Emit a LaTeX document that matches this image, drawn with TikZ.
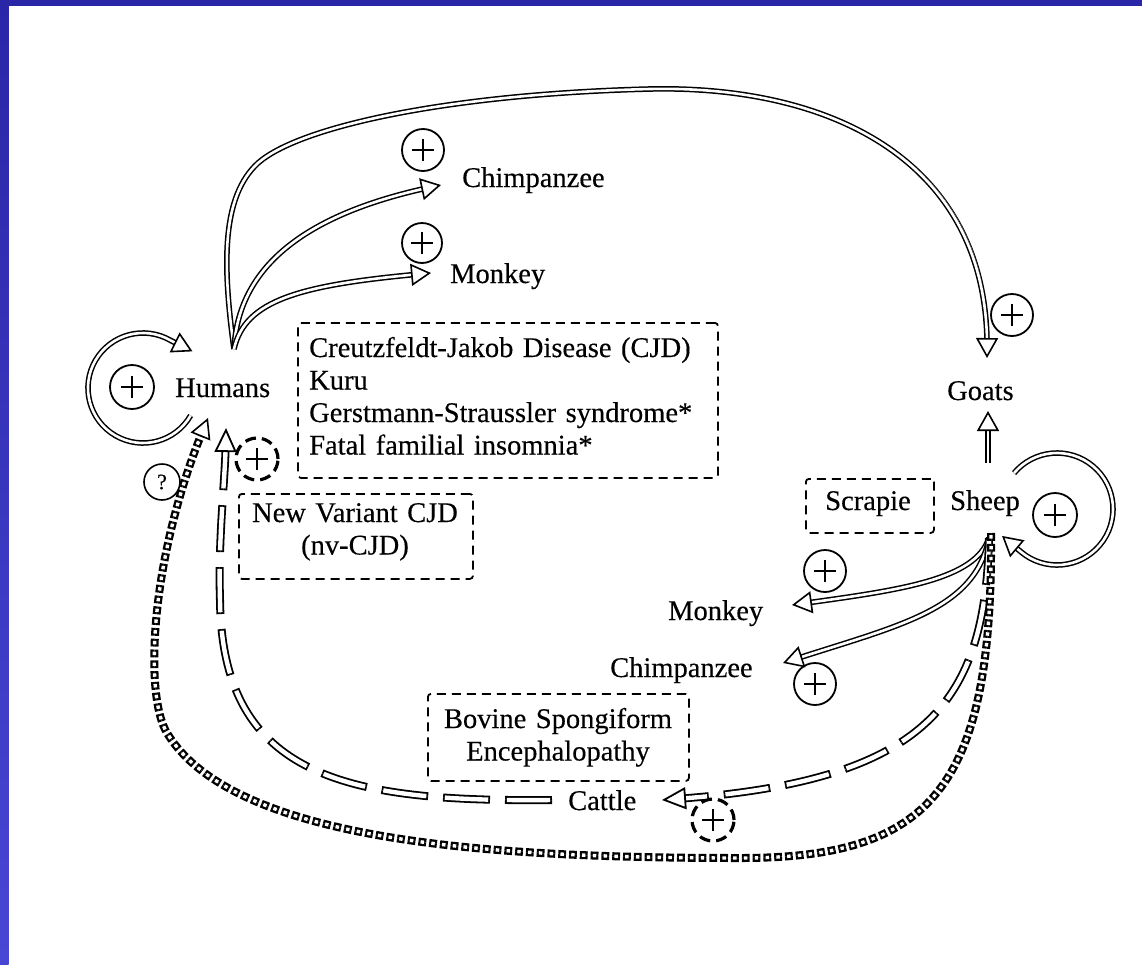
\documentclass[tikz,border=0pt]{standalone}
\usepackage{fontspec}
\setmainfont{Liberation Serif}[FakeBold=0.3]
\usetikzlibrary{arrows.meta}

\definecolor{frameblue}{RGB}{42,38,168}
\definecolor{frameblueB}{RGB}{72,70,212}

\tikzset{
  lbl/.style={inner sep=0pt, anchor=base west, font=\fontsize{28.5}{32.5}\selectfont},
  dbox/.style={draw, line width=1.8pt, dash pattern=on 9pt off 6pt, rounded corners=3pt, inner sep=0pt},
  pcirc/.style={circle, draw, line width=1.8pt, minimum size=42pt, inner sep=0pt,
    path picture={\draw[solid, line width=2.4pt]
      ([xshift=-11pt]path picture bounding box.center) -- ([xshift=11pt]path picture bounding box.center)
      ([yshift=-11pt]path picture bounding box.center) -- ([yshift=11pt]path picture bounding box.center);}},
  dcirc/.style={pcirc, line width=3.2pt, dash pattern=on 11pt off 6pt},
  qcirc/.style={circle, draw, line width=1.6pt, minimum size=36pt, inner sep=0pt, font=\fontsize{22}{22}\selectfont},
  shaft/.style={draw, double=white, line width=1.5pt, double distance=2.6pt, shorten >=10pt},
  head/.style={white, line width=0.01pt, -{Triangle[open, fill=white, color=black, line width=1.6pt, length=20pt, width=22pt]}},
  dshB/.style={line width=8pt, dash pattern=on 47pt off 15pt, shorten >=18pt},
  dshW/.style={white, line width=4.4pt, dash pattern=on 43.4pt off 18.6pt, shorten >=18pt},
  dhead/.style={white, line width=0.01pt, -{Triangle[open, fill=white, color=black, line width=1.8pt, length=24pt, width=22pt]}},
  sqB/.style={line width=8pt, dash pattern=on 7.8pt off 3pt, shorten >=14pt},
  sqW/.style={white, line width=3.4pt, dash pattern=on 3.4pt off 7.4pt, shorten >=14pt},
  sqhead/.style={white, line width=0.01pt, -{Triangle[open, fill=white, color=black, line width=1.6pt, length=20pt, width=21pt]}}
}

% solid hollow arrow: outlined shaft, then an open head on top
\newcommand\hollowarrow[1]{\draw[shaft] #1; \draw[head] #1;}
% long-dash hollow arrow, #1 = dash phase of the outer strokes
\newcommand\dasharrow[2]{%
  \pgfmathsetmacro\innerphase{#1+60.2}%
  \draw[dshB, dash phase=#1pt] #2;
  \draw[dshW, dash phase=\innerphase pt] #2;
  \draw[dhead] #2;}
% chain of little hollow squares ending in an open head
\newcommand\squarearrow[1]{%
  \draw[sqB] #1; \draw[sqW, dash phase=8.6pt] #1; \draw[sqhead] #1;}

\begin{document}
\begin{tikzpicture}[x=1pt, y=-1pt]
\useasboundingbox (0,0) rectangle (1142,964);
\fill[white] (0,0) rectangle (1142,964);
\shade[top color=frameblue, bottom color=frameblueB] (0,0) rectangle (8.7,964);
\fill[frameblue] (0,0) rectangle (1142,6);

% ---------- labels ----------
\node[lbl] (chimpT) at (462,187) {Chimpanzee};
\node[lbl] (monkT)  at (450,283) {Monkey};
\node[lbl] (humans) at (175,397) {Humans};
\node[lbl] (goats)  at (947,400) {Goats};
\node[lbl] (sheep)  at (950,510) {Sheep};
\node[lbl] (monkR)  at (668,620) {Monkey};
\node[lbl] (chimpR) at (610,677) {Chimpanzee};
\node[lbl] (cattle) at (568,810) {Cattle};

% ---------- disease boxes ----------
\node[dbox, anchor=north west, minimum width=420pt, minimum height=155pt] (cjdbox) at (297,322) {};
\node[lbl, text width=405pt, align=left] (cjd) at (309,357)
  {Creutzfeldt-Jakob Disease (CJD)\\Kuru\\Gerstmann-Straussler syndrome*\\Fatal familial insomnia*};

\node[dbox, anchor=north west, minimum width=234pt, minimum height=85pt] (nvbox) at (238,493) {};
\node[lbl, anchor=base, text width=230pt, align=center] (nv) at (355,522) {New Variant CJD\\(nv-CJD)};

\node[dbox, anchor=north west, minimum width=128pt, minimum height=54pt] (scrbox) at (805,478) {};
\node[lbl, anchor=base] (scrapie) at (868,510) {Scrapie};

\node[dbox, anchor=north west, minimum width=261pt, minimum height=87pt] (bsebox) at (427,693) {};
\node[lbl, anchor=base, text width=255pt, align=center] (bse) at (558,728) {Bovine Spongiform\\Encephalopathy};

% ---------- plus signs ----------
\node[pcirc] (pChT) at (423,150) {};
\node[pcirc, minimum size=40pt] (pMoT) at (422,243) {};
\node[pcirc, minimum size=44pt] (pHum) at (132,387) {};
\node[pcirc] (pGoat) at (1012,315) {};
\node[pcirc, minimum size=44pt] (pSheep) at (1055,515) {};
\node[pcirc] (pMoR) at (825,571) {};
\node[pcirc] (pChR) at (815,684) {};
\node[dcirc] (pNv) at (257,459) {};
\node[dcirc] (pBse) at (713,820) {};
\node[qcirc] (quest) at (162,482) {?};

% ---------- connector end points ----------
\coordinate (hubH) at (234,349);
\coordinate (hubS) at (989,538);
\coordinate (dotS) at (991,533);
\coordinate (tipChT) at (441,185);
\coordinate (tipMoT) at (431,273);
\coordinate (tipGoat) at (987,358);
\coordinate (sheepUp) at (988,463);
\coordinate (tipGoatUp) at (988,411);
\coordinate (tipMoR) at (792,605);
\coordinate (tipChR) at (783,663);
\coordinate (tipCattle) at (662,800);
\coordinate (cattleW) at (552,800);
\coordinate (tipHumDash) at (226,428);
\coordinate (tipHumDot) at (208,418);
\coordinate (humLoop) at (143,388);
\coordinate (sheepLoop) at (1057,509);

% ---------- transmission from humans ----------
\hollowarrow{(hubH) .. controls (222,262) and (222,196) .. (258,163)
  .. controls (300,126) and (450,94) .. (650,89)
  .. controls (830,85) and (988,160) .. (tipGoat)}
\hollowarrow{(hubH) .. controls (238,270) and (300,215) .. (tipChT)}
\hollowarrow{(hubH) .. controls (245,300) and (300,285) .. (tipMoT)}
\hollowarrow{(humLoop) ++(30:55) arc[start angle=30, end angle=300, radius=55] -- ++(22,11)}

% ---------- transmission from sheep ----------
\hollowarrow{(sheepUp) -- (tipGoatUp)}
\hollowarrow{(hubS) .. controls (975,580) and (900,590) .. (tipMoR)}
\hollowarrow{(hubS) .. controls (975,610) and (900,625) .. (tipChR)}
\hollowarrow{(sheepLoop) ++(220:56) arc[start angle=220, end angle=490, radius=56] -- ++(-19,-16)}

% ---------- sheep -> cattle -> humans ----------
\dasharrow{0}{(hubS) .. controls (985,700) and (930,780) .. (tipCattle)}
\dasharrow{0}{(cattleW) .. controls (350,802) and (222,780) .. (220,600)
  .. controls (218,540) and (225,480) .. (tipHumDash)}

% ---------- sheep -> humans ----------
\squarearrow{(dotS) .. controls (993,790) and (930,858) .. (740,858)
  .. controls (480,858) and (232,840) .. (167,733)
  .. controls (144,695) and (150,560) .. (tipHumDot)}
\end{tikzpicture}
\end{document}
